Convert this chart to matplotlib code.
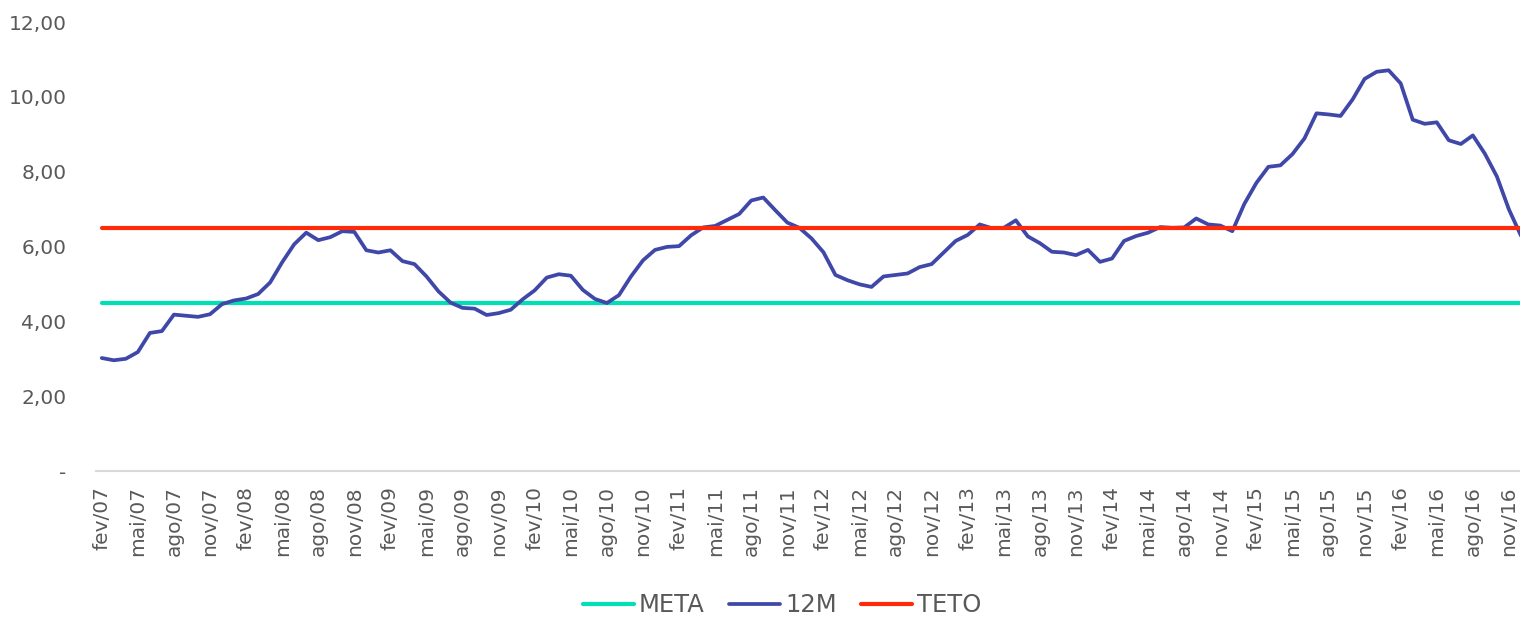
import matplotlib
matplotlib.use("Agg")
import matplotlib.pyplot as plt
from matplotlib.ticker import FuncFormatter

# IPCA acumulado em 12 meses, fev/07 a dez/16
meses = ["jan", "fev", "mar", "abr", "mai", "jun", "jul", "ago", "set", "out", "nov", "dez"]
periodos = [f"{m}/{a:02d}" for a in range(7, 17) for m in meses][1:]

ipca_12m = [
    3.02, 2.96, 3.00, 3.18, 3.69, 3.74, 4.18, 4.15, 4.12, 4.19, 4.46,
    4.56, 4.61, 4.73, 5.04, 5.58, 6.06, 6.37, 6.17, 6.25, 6.41, 6.39, 5.90,
    5.84, 5.90, 5.61, 5.53, 5.20, 4.80, 4.50, 4.36, 4.34, 4.17, 4.22, 4.31,
    4.59, 4.83, 5.17, 5.26, 5.22, 4.84, 4.60, 4.49, 4.70, 5.20, 5.63, 5.91,
    5.99, 6.01, 6.30, 6.51, 6.55, 6.71, 6.87, 7.23, 7.31, 6.97, 6.64, 6.50,
    6.22, 5.85, 5.24, 5.10, 4.99, 4.92, 5.20, 5.24, 5.28, 5.45, 5.53, 5.84,
    6.15, 6.31, 6.59, 6.49, 6.50, 6.70, 6.27, 6.09, 5.86, 5.84, 5.77, 5.91,
    5.59, 5.68, 6.15, 6.28, 6.37, 6.52, 6.50, 6.51, 6.75, 6.59, 6.56, 6.41,
    7.14, 7.70, 8.13, 8.17, 8.47, 8.89, 9.56, 9.53, 9.49, 9.93, 10.48, 10.67,
    10.71, 10.36, 9.39, 9.28, 9.32, 8.84, 8.74, 8.97, 8.48, 7.87, 6.99, 6.29,
]
meta = [4.5] * len(ipca_12m)
teto = [6.5] * len(ipca_12m)

cinza = "#595959"
plt.rcParams["font.family"] = "DejaVu Sans"

fig = plt.figure(figsize=(15.2, 6.17), dpi=100)
ax = fig.add_axes([0.063, 0.2366, 0.937, 0.7277])

x = range(len(ipca_12m))
ax.plot(x, meta, color="#00E0B4", lw=3.0, label="META", solid_capstyle="round")
ax.plot(x, ipca_12m, color="#3F48A8", lw=2.7, label="12M", solid_capstyle="round")
ax.plot(x, teto, color="#FF2A0A", lw=3.0, label="TETO", solid_capstyle="round")

ax.set_xlim(-0.5, len(ipca_12m) - 1.08)
ax.set_ylim(0, 12)
ax.set_yticks(range(0, 13, 2))
ax.yaxis.set_major_formatter(FuncFormatter(
    lambda v, p: "-" if v == 0 else f"{v:.2f}".replace(".", ",")))

pos = list(range(0, len(periodos) - 1, 3))
ax.set_xticks(pos)
ax.set_xticklabels([periodos[i] for i in pos], rotation=90, va="top", ha="center")

for s in ["top", "right", "left"]:
    ax.spines[s].set_visible(False)
ax.spines["bottom"].set_color("#D9D9D9")
ax.spines["bottom"].set_linewidth(1.5)
ax.tick_params(axis="y", length=0, pad=21, labelsize=14.5, labelcolor=cinza)
ax.tick_params(axis="x", length=0, pad=11, labelsize=14.5, labelcolor=cinza)

fig.legend(loc="center", bbox_to_anchor=(0.5145, 0.0194), ncol=3, frameon=False,
           fontsize=17.5, handlelength=2.1, columnspacing=1.0, handletextpad=0.2,
           labelcolor=cinza)

fig.savefig("out.png", dpi=100)
